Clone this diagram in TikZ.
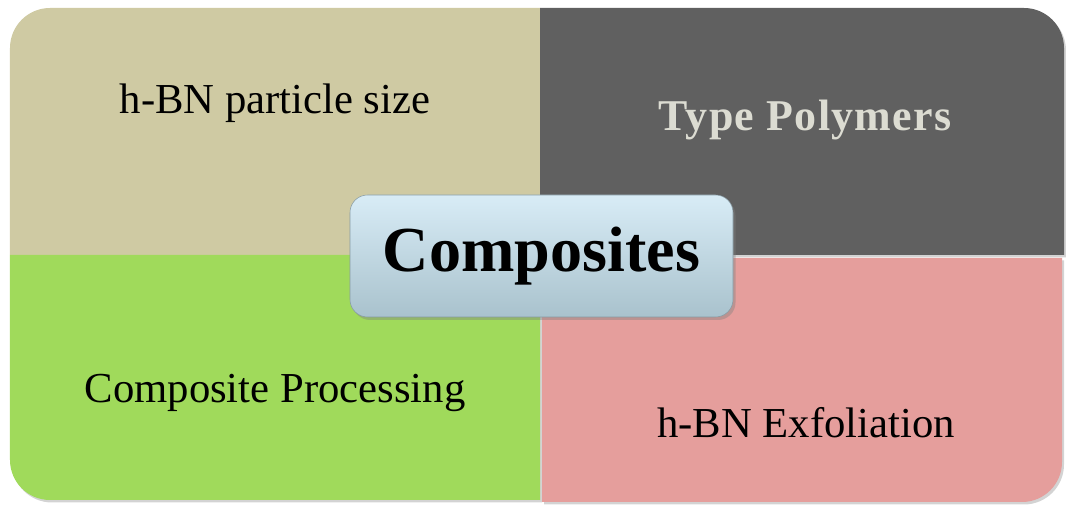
\documentclass[tikz,border=0pt]{standalone}
\usepackage{fontspec}
\setmainfont{Liberation Serif}
\usetikzlibrary{shadows}
\definecolor{sandbg}{HTML}{CFCAA3}
\definecolor{slatebg}{HTML}{606060}
\definecolor{limebg}{HTML}{A0DA5B}
\definecolor{rosebg}{HTML}{E59E9C}
\definecolor{icetop}{HTML}{D8ECF6}
\definecolor{icebot}{HTML}{A9C2CD}
\definecolor{silver}{HTML}{DCDCD2}
\tikzstyle{quarter}=[
    draw = none,
    drop shadow = {shadow xshift=0.4mm, shadow yshift=-0.5mm, opacity=0.35}
]
\tikzstyle{hub}=[
    rectangle,
    rounded corners = 3.5mm,
    top color = icetop,
    bottom color = icebot,
    draw = icebot!80!black,
    line width = 0.3pt,
    minimum width = 7.66cm,
    minimum height = 2.44cm,
    drop shadow = {shadow xshift=0.5mm, shadow yshift=-0.6mm, opacity=0.4},
    font = \fontsize{36.5}{40}\selectfont\bfseries
]

\begin{document}
\begin{tikzpicture}[label/.style = {font=\fontsize{24.3}{28}\selectfont}]
        \useasboundingbox (0,0) rectangle (21.32,10.16);

        % four quarters, only the outer corner is rounded
        \fill[sandbg, quarter] (10.8,5.06) -- (0.2,5.06) -- (0.2,9.2)
            arc[start angle=180, end angle=90, radius=0.8] -- (10.8,10.0) -- cycle;
        \fill[slatebg, quarter] (10.8,5.06) -- (10.8,10.0) -- (20.48,10.0)
            arc[start angle=90, end angle=0, radius=0.8] -- (21.28,5.06) -- cycle;
        \fill[limebg, quarter] (10.8,5.06) -- (0.2,5.06) -- (0.2,0.96)
            arc[start angle=180, end angle=270, radius=0.8] -- (10.8,0.16) -- cycle;
        \fill[rosebg, quarter] (10.84,5.0) -- (21.24,5.0) -- (21.24,0.92)
            arc[start angle=0, end angle=-90, radius=0.8] -- (10.84,0.12) -- cycle;

        \node[label] (size) at (5.5,8.1) {h-BN particle size};
        \node[label, text=silver, font=\fontsize{25}{28}\selectfont\bfseries\addfontfeature{LetterSpace=3}] (poly) at (16.1,7.76) {Type Polymers};
        \node[label] (proc) at (5.5,2.3) {Composite Processing};
        \node[label] (exfo) at (16.12,1.7) {h-BN Exfoliation};

        \node[hub] (comp) at (10.83,5.04) {Composites};

    \end{tikzpicture}
\end{document}
